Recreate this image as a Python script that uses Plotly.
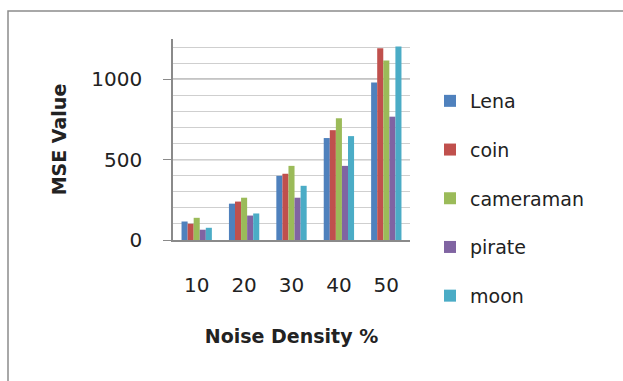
import plotly.graph_objects as go

categories = ["10", "20", "30", "40", "50"]
series_names = ["Lena", "coin", "cameraman", "pirate", "moon"]
lena = [115, 226, 399, 634, 979]
coin = [101, 239, 412, 683, 1193]
cameraman = [138, 263, 461, 757, 1117]
pirate = [64, 152, 263, 461, 767]
moon = [76, 165, 337, 646, 1204]
colors = ["#4F81BD", "#C0504D", "#9BBB59", "#8064A2", "#4BACC6"]

W, H = 623, 381
L, R, T, B = 173, 410, 39, 240

fig = go.Figure()
for name, vals, col in zip(series_names, [lena, coin, cameraman, pirate, moon], colors):
    fig.add_trace(go.Bar(x=categories, y=vals, name=name, marker_color=col,
                         marker_line_width=0, legendgroup=name))

pw = R - L
ph = B - T
def px_x(p):
    return (p - L) / pw
def px_y(p):
    return (B - p) / ph

shapes = [
    dict(type="rect", xref="paper", yref="paper",
         x0=px_x(8), x1=px_x(700), y0=px_y(11), y1=px_y(450),
         line=dict(color="#8c8c8c", width=1.5), fillcolor="rgba(0,0,0,0)", layer="below"),
]
for v in [500, 1000]:
    shapes.append(dict(type="line", xref="paper", yref="y", x0=0, x1=1, y0=v, y1=v,
                       line=dict(color="#8a8a8a", width=1.2), layer="below"))

fig.update_layout(
    width=W, height=H,
    margin=dict(l=L, r=W - R, t=T, b=H - B, autoexpand=False),
    paper_bgcolor="white", plot_bgcolor="white",
    barmode="group", bargap=0.36, bargroupgap=0,
    font=dict(family="DejaVu Sans", size=20, color="#222"),
    showlegend=True,
    legend=dict(x=px_x(430), y=px_y(82), xanchor="left", yanchor="top",
                font=dict(family="DejaVu Sans", size=19, color="#222"),
                tracegroupgap=21, bgcolor="rgba(0,0,0,0)", itemwidth=30,
                maxheight=600),
    shapes=shapes,
    xaxis=dict(showline=True, linecolor="#8a8a8a", linewidth=1.5, ticks="",
               ticklabelstandoff=26, showgrid=False,
               tickfont=dict(size=20),
               title=dict(text="<b>Noise Density %</b>", font=dict(size=19), standoff=34)),
    yaxis=dict(range=[0, 1250], showline=True, linecolor="#8a8a8a", linewidth=1.5,
               tickvals=[0, 500, 1000], ticks="outside", ticklen=8, tickcolor="#8a8a8a",
               ticklabelstandoff=17, tickfont=dict(size=20),
               showgrid=True, gridcolor="#cfcfcf", gridwidth=1,
               minor=dict(dtick=100, tick0=0, showgrid=True, gridcolor="#cfcfcf", gridwidth=1),
               zeroline=False,
               title=dict(text="<b>MSE Value</b>", font=dict(size=19), standoff=20)),
)

fig.write_html("out.html", post_script="document.body.style.margin='0';",
               config={"displayModeBar": False})
